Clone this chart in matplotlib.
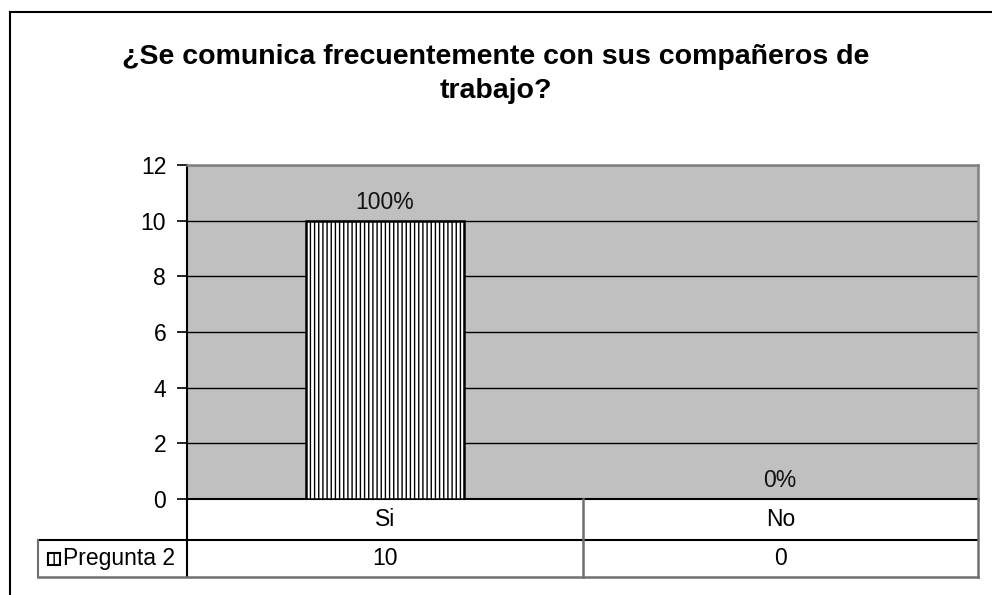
import matplotlib
matplotlib.use("Agg")
import matplotlib.pyplot as plt
from matplotlib.patches import Rectangle
from matplotlib.lines import Line2D
import matplotlib.transforms as mtransforms

plt.rcParams['font.family'] = ['Liberation Sans', 'DejaVu Sans']
plt.rcParams['hatch.linewidth'] = 1.0
plt.rcParams['hatch.color'] = '#202020'

title = "¿Se comunica frecuentemente con sus compañeros de\ntrabajo?"
categories = ["Si", "No"]
values = [10, 0]
percent_labels = ["100%", "0%"]
series_name = "Pregunta 2"
y_ticks = [0, 2, 4, 6, 8, 10, 12]

W, H = 992, 595
fig = plt.figure(figsize=(W / 100, H / 100), dpi=100)
FS = 16.5


def fx(px):
    return px / W


def fy(py):
    return 1 - py / H


# outer chart frame
fig.add_artist(Line2D([fx(10), fx(10)], [fy(12), fy(600)], color='black', lw=1.5))
fig.add_artist(Line2D([fx(10), fx(1000)], [fy(12), fy(12)], color='black', lw=1.5))

ax_l, ax_r, ax_t, ax_b = 187, 978, 165, 499
ax = fig.add_axes([fx(ax_l), fy(ax_b), fx(ax_r - ax_l), (ax_b - ax_t) / H])
ax.set_facecolor('#C0C0C0')

x = list(range(len(categories)))
ax.bar(x, values, width=0.4, color='white', edgecolor='black', linewidth=1.8,
       hatch='||||', zorder=3)
for xi, v, lab in zip(x, values, percent_labels):
    ax.annotate(lab, (xi, v), xytext=(0, 5), textcoords='offset points',
                ha='center', va='bottom', fontsize=FS, color='#111111')

ax.set_xlim(-0.5, len(categories) - 0.5)
ax.set_ylim(0, 12)
ax.set_yticks(y_ticks)
ax.set_xticks([])
ax.yaxis.grid(True, color='black', linewidth=1.0, zorder=1)
ax.set_axisbelow(True)
ax.tick_params(axis='y', direction='out', length=7, width=1.2, labelsize=FS, pad=8)
for side in ['left', 'bottom']:
    ax.spines[side].set_color('black')
    ax.spines[side].set_linewidth(1.5)
for side in ['top', 'right']:
    ax.spines[side].set_color('#808080')
    ax.spines[side].set_linewidth(1.8)

fig.text(0.5, fy(74), title, ha='center', va='center', fontsize=20.5,
         fontweight='bold', linespacing=1.4)

# data table under the plot area
row1_b, row2_b = 540, 577
tbl_left = 38
gray = '#707070'
fig.add_artist(Line2D([fx(ax_l), fx(ax_l)], [fy(ax_b), fy(row2_b)], color='black', lw=1.5))
fig.add_artist(Line2D([fx(tbl_left), fx(ax_r)], [fy(row1_b), fy(row1_b)], color='black', lw=1.5))
fig.add_artist(Line2D([fx(tbl_left), fx(ax_r)], [fy(row2_b), fy(row2_b)], color=gray, lw=1.8))
fig.add_artist(Line2D([fx(tbl_left), fx(tbl_left)], [fy(row1_b), fy(row2_b)], color=gray, lw=1.5))
fig.add_artist(Line2D([fx(ax_r), fx(ax_r)], [fy(ax_b), fy(row2_b)], color=gray, lw=1.8))

trans = mtransforms.blended_transform_factory(ax.transData, fig.transFigure)
for i in range(1, len(categories)):
    fig.add_artist(Line2D([i - 0.5, i - 0.5], [fy(ax_b), fy(row2_b)],
                          transform=trans, color=gray, lw=1.8))
for xi, cat, v in zip(x, categories, values):
    fig.text(xi, fy((ax_b + row1_b) / 2), cat, transform=trans, ha='center',
             va='center', fontsize=FS)
    fig.text(xi, fy((row1_b + row2_b) / 2), str(v), transform=trans, ha='center',
             va='center', fontsize=FS)

# legend key and series name
key = Rectangle((fx(48), fy(565)), fx(12), 12 / H, transform=fig.transFigure,
                facecolor='white', edgecolor='black', linewidth=1.5, hatch='||')
fig.add_artist(key)
fig.text(fx(63), fy((row1_b + row2_b) / 2), series_name, ha='left', va='center',
         fontsize=FS)

fig.savefig('out.png', dpi=100)
